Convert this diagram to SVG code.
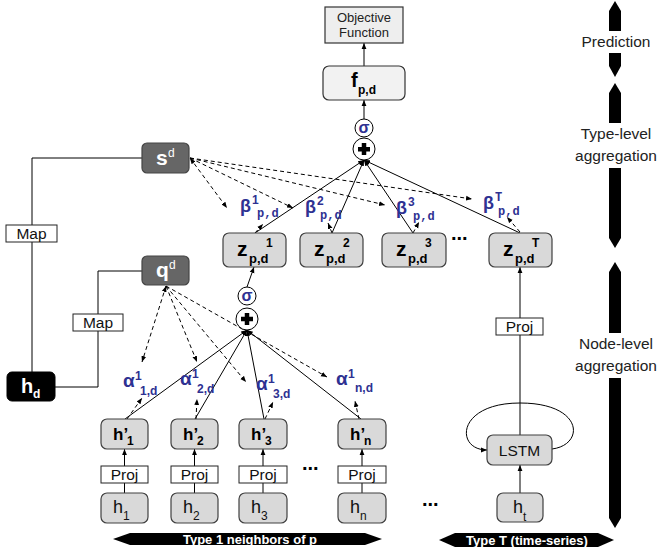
<svg xmlns="http://www.w3.org/2000/svg" width="663" height="554" viewBox="0 0 663 554">
<defs>
<marker id="ah" viewBox="0 0 10 10" refX="10" refY="5" markerWidth="6" markerHeight="6" markerUnits="userSpaceOnUse" orient="auto-start-reverse"><path d="M0,1 L10,5 L0,9 z" fill="#000"/></marker>
</defs>
<style>
text{font-family:"Liberation Sans",Arial,sans-serif;}
.box{fill:#d9d9d9;stroke:#404040;stroke-width:1.2;}
.wbox{fill:#fff;stroke:#222;stroke-width:1;}
.dk{fill:#666;stroke:#444;stroke-width:1.2;}
.ln{stroke:#000;stroke-width:1;fill:none;}
.da{stroke:#000;stroke-width:1;fill:none;stroke-dasharray:4,3;}
.bl{fill:#2e3192;font-weight:bold;}
.mono{font-family:"Liberation Mono","Courier New",monospace;}
.b{font-weight:bold;}
.w{fill:#fff;}
.reg{font-size:15.5px;fill:#111;text-anchor:middle;}
.lbl{font-size:15.5px;fill:#222;text-anchor:middle;}
.ban{font-size:13px;font-weight:bold;fill:#fff;text-anchor:middle;}
</style>

<g id="connectors">
<line class="ln" x1="364" y1="66" x2="364" y2="43" marker-end="url(#ah)"/>
<line class="ln" x1="364" y1="119" x2="364" y2="100" marker-end="url(#ah)"/>
<line class="ln" x1="255" y1="233" x2="364" y2="160" marker-end="url(#ah)"/>
<line class="ln" x1="332" y1="233" x2="364" y2="160" marker-end="url(#ah)"/>
<line class="ln" x1="413" y1="233" x2="364" y2="160" marker-end="url(#ah)"/>
<line class="ln" x1="520" y1="233" x2="364" y2="160" marker-end="url(#ah)"/>
<line class="da" x1="190" y1="158" x2="227" y2="208" marker-start="url(#ah)" marker-end="url(#ah)"/>
<line class="da" x1="190" y1="158" x2="293" y2="208" marker-end="url(#ah)"/>
<line class="da" x1="190" y1="158" x2="385" y2="205" marker-end="url(#ah)"/>
<line class="da" x1="190" y1="158" x2="472" y2="199" marker-end="url(#ah)"/>
<line class="da" x1="255" y1="233" x2="263" y2="224" marker-end="url(#ah)"/>
<line class="da" x1="332" y1="233" x2="328" y2="223" marker-end="url(#ah)"/>
<line class="da" x1="413" y1="233" x2="419" y2="222" marker-end="url(#ah)"/>
<line class="da" x1="520" y1="232" x2="507" y2="217" marker-end="url(#ah)"/>
<line class="ln" x1="247" y1="287" x2="254" y2="267" marker-end="url(#ah)"/>
<line class="ln" x1="125" y1="419" x2="247" y2="330" marker-end="url(#ah)"/>
<line class="ln" x1="195" y1="419" x2="247" y2="330" marker-end="url(#ah)"/>
<line class="ln" x1="264" y1="419" x2="247" y2="330" marker-end="url(#ah)"/>
<line class="ln" x1="361" y1="419" x2="247" y2="330" marker-end="url(#ah)"/>
<line class="da" x1="166" y1="286" x2="142" y2="362" marker-start="url(#ah)" marker-end="url(#ah)"/>
<line class="da" x1="166" y1="286" x2="197" y2="362" marker-end="url(#ah)"/>
<line class="da" x1="166" y1="286" x2="246" y2="382" marker-end="url(#ah)"/>
<line class="da" x1="166" y1="286" x2="327" y2="377" marker-end="url(#ah)"/>
<line class="da" x1="127" y1="419" x2="142" y2="398" marker-end="url(#ah)"/>
<line class="da" x1="196" y1="419" x2="197" y2="399" marker-end="url(#ah)"/>
<line class="da" x1="265" y1="419" x2="273" y2="402" marker-end="url(#ah)"/>
<line class="da" x1="359" y1="419" x2="355" y2="401" marker-end="url(#ah)"/>
<line class="ln" x1="124.5" y1="466" x2="124.5" y2="449" marker-end="url(#ah)"/>
<line class="ln" x1="194.5" y1="466" x2="194.5" y2="449" marker-end="url(#ah)"/>
<line class="ln" x1="263" y1="466" x2="263" y2="449" marker-end="url(#ah)"/>
<line class="ln" x1="362" y1="466" x2="362" y2="449" marker-end="url(#ah)"/>
<line class="ln" x1="124.5" y1="493" x2="124.5" y2="483"/>
<line class="ln" x1="194.5" y1="493" x2="194.5" y2="483"/>
<line class="ln" x1="263" y1="493" x2="263" y2="483"/>
<line class="ln" x1="362" y1="493" x2="362" y2="483"/>
<line class="ln" x1="520" y1="435" x2="520" y2="335"/>
<line class="ln" x1="520" y1="318" x2="520" y2="267" marker-end="url(#ah)"/>
<line class="ln" x1="520" y1="493" x2="520" y2="465" marker-end="url(#ah)"/>
<path class="ln" d="M552,449 C585,445 584,403 520,403 C456,403 455,450 487,450" marker-end="url(#ah)"/>
<polyline class="ln" points="142,158 32,158 32,372"/>
<polyline class="ln" points="142,271 98,271 98,387 55,387"/>
</g>

<g id="objective">
<rect x="325" y="7" width="78" height="36" fill="#eee" stroke="#333" stroke-width="1.2"/>
<text x="364" y="22" font-size="13" text-anchor="middle" fill="#222">Objective</text>
<text x="364" y="37" font-size="13" text-anchor="middle" fill="#222">Function</text>
</g>
<g id="f">
<rect x="323" y="66" width="82" height="34" rx="6" fill="#f2f2f2" stroke="#333" stroke-width="1.2"/>
<text x="351" y="87" font-size="20" class="b">f</text>
<text x="358" y="94" font-size="12" class="b">p,d</text>
</g>
<g id="sigma-top">
<circle cx="364" cy="128" r="9" fill="#fff" stroke="#000" stroke-width="1"/>
<text x="364" y="133" font-size="16" class="bl" text-anchor="middle">σ</text>
</g>
<g id="plus-top">
<circle cx="364" cy="149" r="11" fill="#fff" stroke="#000" stroke-width="1"/>
<rect x="358" y="147" width="12" height="4.5" fill="#000"/>
<rect x="361.75" y="143" width="4.5" height="12" fill="#000"/>
</g>

<g id="sd">
<rect x="142" y="143" width="47" height="30" rx="5" class="dk"/>
<text x="156" y="165" font-size="21" class="b w">s</text>
<text x="168" y="157" font-size="12" class="w">d</text>
</g>
<g id="qd">
<rect x="142" y="256" width="47" height="29" rx="5" class="dk"/>
<text x="156" y="277" font-size="21" class="b w">q</text>
<text x="169" y="269" font-size="12" class="w">d</text>
</g>
<g id="hd">
<rect x="7" y="372" width="48" height="29" rx="5" fill="#000" stroke="#000"/>
<text x="21" y="393" font-size="20" class="b w">h</text>
<text x="33" y="398" font-size="12" class="b w">d</text>
</g>
<g id="map1">
<rect x="6" y="225" width="51" height="17" class="wbox"/>
<text x="31.5" y="239" class="reg">Map</text>
</g>
<g id="map2">
<rect x="73" y="314" width="50" height="17" class="wbox"/>
<text x="98" y="328" class="reg">Map</text>
</g>

<g id="beta-labels">
<text x="240" y="212" font-size="18" class="bl">β</text><text x="252" y="204" font-size="12" class="bl">1</text><text x="257" y="217" font-size="12" class="bl mono">p,d</text>
<text x="305" y="213" font-size="18" class="bl">β</text><text x="317" y="205" font-size="12" class="bl">2</text><text x="320" y="219" font-size="12" class="bl mono">p,d</text>
<text x="396" y="214" font-size="18" class="bl">β</text><text x="408" y="206" font-size="12" class="bl">3</text><text x="413" y="220" font-size="12" class="bl mono">p,d</text>
<text x="483" y="209" font-size="18" class="bl">β</text><text x="495" y="201" font-size="12" class="bl mono">T</text><text x="498" y="215" font-size="12" class="bl mono">p,d</text>
</g>

<g id="z1">
<rect x="223" y="233" width="63" height="34" rx="6" class="box"/>
<text x="237" y="256" font-size="21" class="b">z</text><text x="249" y="263" font-size="13" class="b">p,d</text><text x="266" y="247" font-size="12" class="b">1</text>
</g>
<g id="z2">
<rect x="300" y="233" width="63" height="34" rx="6" class="box"/>
<text x="314" y="256" font-size="21" class="b">z</text><text x="326" y="263" font-size="13" class="b">p,d</text><text x="343" y="247" font-size="12" class="b">2</text>
</g>
<g id="z3">
<rect x="382" y="233" width="64" height="34" rx="6" class="box"/>
<text x="396" y="256" font-size="21" class="b">z</text><text x="408" y="263" font-size="13" class="b">p,d</text><text x="425" y="247" font-size="12" class="b">3</text>
</g>
<text x="451" y="240" font-size="20" class="b">...</text>
<g id="zT">
<rect x="489" y="233" width="63" height="34" rx="6" class="box"/>
<text x="503" y="256" font-size="21" class="b">z</text><text x="515" y="263" font-size="13" class="b">p,d</text><text x="532" y="247" font-size="12" class="b">T</text>
</g>

<g id="sigma-low">
<circle cx="247" cy="296" r="9" fill="#fff" stroke="#000" stroke-width="1"/>
<text x="247" y="301" font-size="16" class="bl" text-anchor="middle">σ</text>
</g>
<g id="plus-low">
<circle cx="247" cy="319" r="11" fill="#fff" stroke="#000" stroke-width="1"/>
<rect x="241" y="316.75" width="12" height="4.5" fill="#000"/>
<rect x="244.75" y="313" width="4.5" height="12" fill="#000"/>
</g>

<g id="alpha-labels">
<text x="123" y="387" font-size="19" class="bl">α</text><text x="135" y="380" font-size="12" class="bl">1</text><text x="140" y="395" font-size="12" class="bl">1,d</text>
<text x="180" y="385" font-size="19" class="bl">α</text><text x="192" y="378" font-size="12" class="bl">1</text><text x="197" y="393" font-size="12" class="bl">2,d</text>
<text x="256" y="390" font-size="19" class="bl">α</text><text x="268" y="383" font-size="12" class="bl">1</text><text x="273" y="398" font-size="12" class="bl">3,d</text>
<text x="336" y="385" font-size="19" class="bl">α</text><text x="348" y="378" font-size="12" class="bl">1</text><text x="355" y="392" font-size="12" class="bl">n,d</text>
</g>

<g id="hp1"><rect x="101" y="419" width="47" height="30" rx="6" class="box"/><text x="113" y="440" font-size="17" class="b">h’</text><text x="127" y="445" font-size="12" class="b">1</text></g>
<g id="hp2"><rect x="171" y="419" width="47" height="30" rx="6" class="box"/><text x="183" y="440" font-size="17" class="b">h’</text><text x="197" y="445" font-size="12" class="b">2</text></g>
<g id="hp3"><rect x="239" y="419" width="48" height="30" rx="6" class="box"/><text x="251" y="440" font-size="17" class="b">h’</text><text x="265" y="445" font-size="12" class="b">3</text></g>
<text x="302" y="470" font-size="20" class="b">...</text>
<g id="hpn"><rect x="338" y="419" width="48" height="30" rx="6" class="box"/><text x="350" y="440" font-size="17" class="b">h’</text><text x="364" y="445" font-size="12" class="b">n</text></g>

<g id="proj1"><rect x="101" y="466" width="47" height="17" class="wbox"/><text x="124.5" y="480" class="reg">Proj</text></g>
<g id="proj2"><rect x="171" y="466" width="47" height="17" class="wbox"/><text x="194.5" y="480" class="reg">Proj</text></g>
<g id="proj3"><rect x="239" y="466" width="48" height="17" class="wbox"/><text x="263" y="480" class="reg">Proj</text></g>
<g id="projn"><rect x="338" y="466" width="48" height="17" class="wbox"/><text x="362" y="480" class="reg">Proj</text></g>
<g id="projT"><rect x="496" y="318" width="47" height="17" class="wbox"/><text x="519.5" y="332" class="reg">Proj</text></g>

<g id="h1"><rect x="101" y="493" width="47" height="30" rx="6" class="box"/><text x="113" y="513" font-size="18" fill="#111">h</text><text x="123" y="520" font-size="12" fill="#111">1</text></g>
<g id="h2"><rect x="171" y="493" width="47" height="30" rx="6" class="box"/><text x="183" y="513" font-size="18" fill="#111">h</text><text x="193" y="520" font-size="12" fill="#111">2</text></g>
<g id="h3"><rect x="239" y="493" width="48" height="30" rx="6" class="box"/><text x="251" y="513" font-size="18" fill="#111">h</text><text x="261" y="520" font-size="12" fill="#111">3</text></g>
<g id="hn"><rect x="338" y="493" width="48" height="30" rx="6" class="box"/><text x="350" y="513" font-size="18" fill="#111">h</text><text x="360" y="520" font-size="12" fill="#111">n</text></g>

<g id="lstm"><rect x="487" y="435" width="65" height="30" rx="6" class="box"/><text x="519.5" y="455.5" class="reg">LSTM</text></g>
<text x="422" y="506" font-size="20" class="b">...</text>
<g id="ht"><rect x="497" y="493" width="46" height="29" rx="6" class="box"/><text x="513" y="513" font-size="18" fill="#111">h</text><text x="523" y="521" font-size="12" fill="#111">t</text></g>

<g id="banner-type1">
<polygon points="113,539 130,533 365,533 382,539 365,545 130,545" fill="#000"/>
<text x="250" y="544" class="ban">Type 1 neighbors of p</text>
</g>
<g id="banner-typeT">
<polygon points="439,540 455,533 598,533 614,540 598,547 455,547" fill="#000"/>
<text x="527" y="545" class="ban">Type T (time-series)</text>
</g>

<g id="stage-prediction">
<polygon points="615,1 621,11 621,66 615,77 609,66 609,11" fill="#000"/>
<rect x="574" y="31" width="86" height="22" fill="#fff"/>
<text x="616" y="47" class="lbl">Prediction</text>
</g>
<g id="stage-type">
<polygon points="615,83 621,93 621,238 615,248 609,238 609,93" fill="#000"/>
<rect x="572" y="123" width="90" height="45" fill="#fff"/>
<text x="616" y="139" class="lbl">Type-level</text>
<text x="616" y="161" class="lbl">aggregation</text>
</g>
<g id="stage-node">
<polygon points="615,262 621,272 621,518 615,528 609,518 609,272" fill="#000"/>
<rect x="572" y="333" width="90" height="45" fill="#fff"/>
<text x="616" y="349" class="lbl">Node-level</text>
<text x="616" y="371" class="lbl">aggregation</text>
</g>
</svg>
